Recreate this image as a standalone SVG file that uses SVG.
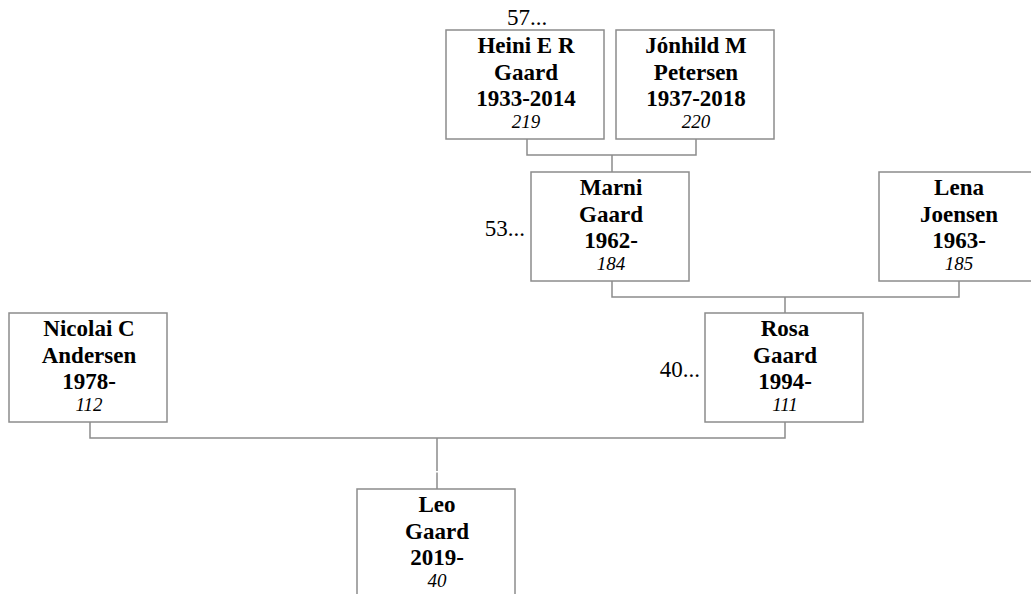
<svg xmlns="http://www.w3.org/2000/svg" width="1031" height="594" viewBox="0 0 1031 594">
<style>
.box{fill:#fff;stroke:#8c8c8c;stroke-width:1.5}
.conn{fill:none;stroke:#8c8c8c;stroke-width:1.5}
.n{font-family:"Liberation Serif","Times New Roman",serif;font-weight:bold;font-size:23px;text-anchor:middle;fill:#000}
.id{font-family:"Liberation Serif","Times New Roman",serif;font-style:italic;font-size:19px;text-anchor:middle;fill:#000}
.lbl{font-family:"Liberation Serif","Times New Roman",serif;font-size:23px;fill:#000}
</style>
<rect width="1031" height="594" fill="#fff"/>
<g id="connectors">
<path class="conn" d="M527,139V155H696V139M612,155V172"/>
<path class="conn" d="M612,281V297H959V281M785,297V313"/>
<path class="conn" d="M90,422V438H785V422M437,438V471M437,472.5V489"/>
</g>
<g id="heini">
<rect class="box" x="446" y="30" width="158" height="109"/>
<text class="n" x="526" y="53">Heini E R</text>
<text class="n" x="526" y="80">Gaard</text>
<text class="n" x="526" y="106">1933-2014</text>
<text class="id" x="526" y="128">219</text>
</g>
<g id="jonhild">
<rect class="box" x="616" y="30" width="158" height="109"/>
<text class="n" x="696" y="53">Jónhild M</text>
<text class="n" x="696" y="80">Petersen</text>
<text class="n" x="696" y="106">1937-2018</text>
<text class="id" x="696" y="128">220</text>
</g>
<g id="marni">
<rect class="box" x="531" y="172" width="158" height="109"/>
<text class="n" x="611" y="195">Marni</text>
<text class="n" x="611" y="222">Gaard</text>
<text class="n" x="611" y="248">1962-</text>
<text class="id" x="611" y="270">184</text>
</g>
<g id="lena">
<rect class="box" x="879" y="172" width="158" height="109"/>
<text class="n" x="959" y="195">Lena</text>
<text class="n" x="959" y="222">Joensen</text>
<text class="n" x="959" y="248">1963-</text>
<text class="id" x="959" y="270">185</text>
</g>
<g id="rosa">
<rect class="box" x="705" y="313" width="158" height="109"/>
<text class="n" x="785" y="336">Rosa</text>
<text class="n" x="785" y="363">Gaard</text>
<text class="n" x="785" y="389">1994-</text>
<text class="id" x="785" y="411">111</text>
</g>
<g id="nicolai">
<rect class="box" x="9" y="313" width="158" height="109"/>
<text class="n" x="89" y="336">Nicolai C</text>
<text class="n" x="89" y="363">Andersen</text>
<text class="n" x="89" y="389">1978-</text>
<text class="id" x="89" y="411">112</text>
</g>
<g id="leo">
<rect class="box" x="357" y="489" width="158" height="109"/>
<text class="n" x="437" y="512">Leo</text>
<text class="n" x="437" y="539">Gaard</text>
<text class="n" x="437" y="565">2019-</text>
<text class="id" x="437" y="587">40</text>
</g>
<g id="labels">
<text class="lbl" x="527" y="25" text-anchor="middle">57...</text>
<text class="lbl" x="525" y="236" text-anchor="end">53...</text>
<text class="lbl" x="700" y="377" text-anchor="end">40...</text>
</g>
</svg>
